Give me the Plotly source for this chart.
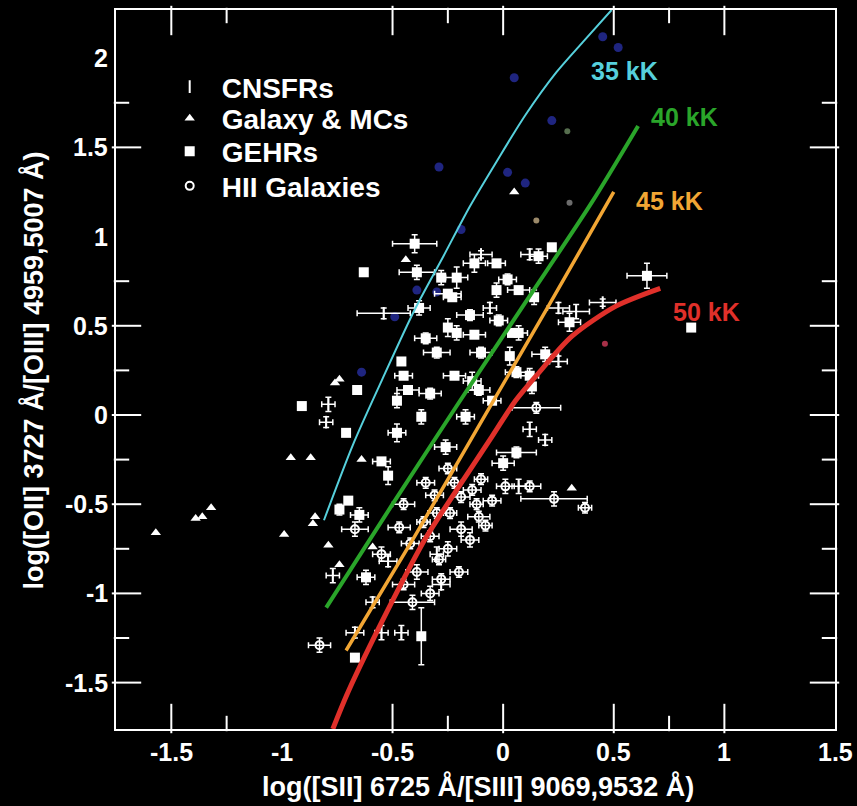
import plotly.graph_objects as go

# ---------------------------------------------------------------- data
# GEHRs (giant extragalactic HII regions)
gehr_x = [-0.40, -0.63, -0.39, -0.28, -0.38, -0.25, -0.35, -0.30, -0.25, -0.46,
          -0.45, 0.22, 0.16, -0.13, -0.03, -0.21, 0.02, -0.03, 0.07, 0.14,
          -0.23, -0.15, 0.30, -0.21, -0.13, 0.07, 0.19, 0.03, -0.10, -0.22,
          0.12, -0.02, 0.04, -0.14, -0.33, -0.48, -0.66, -0.91, -0.71, -0.48,
          -0.43, -0.37, -0.26, -0.17, -0.55, -0.52, -0.70, -0.65, -0.74, -0.11,
          -0.05, 0.06, 0.13, 0.00, 0.06, -0.62, -0.37, -0.67, 0.65, 0.85]
gehr_y = [0.96, 0.80, 0.80, 0.77, 0.60, 0.68, 0.43, 0.35, 0.49, 0.30,
          0.22, 0.94, 0.89, 0.85, 0.85, 0.77, 0.76, 0.70, 0.70, 0.66,
          0.66, 0.56, 0.52, 0.46, 0.45, 0.46, 0.34, 0.33, 0.35, 0.22,
          0.22, 0.53, 0.46, 0.19, 0.12, 0.08, 0.14, 0.05, -0.10, -0.10,
          0.14, -0.01, -0.18, -0.01, -0.26, -0.34, -0.48, -0.56, -0.53, 0.14,
          0.08, 0.24, 0.16, -0.27, -0.21, -0.91, -1.24, -1.36, 0.78, 0.49]
gehr_ex = [0.10, 0, 0.08, 0, 0.05, 0.06, 0.05, 0.06, 0, 0,
           0.04, 0, 0.04, 0.05, 0.04, 0.05, 0.04, 0, 0.05, 0,
           0.04, 0.06, 0.05, 0, 0.05, 0.04, 0.06, 0, 0.05, 0.05,
           0.04, 0.04, 0, 0.04, 0.05, 0, 0, 0, 0, 0.04,
           0.05, 0, 0.05, 0.04, 0.04, 0, 0, 0.04, 0, 0.05,
           0.04, 0.05, 0, 0.05, 0.09, 0.04, 0, 0, 0.09, 0]
gehr_ey = [0.05, 0, 0.04, 0.04, 0.04, 0, 0.03, 0.03, 0.05, 0,
           0, 0, 0.04, 0.05, 0, 0.06, 0.03, 0.04, 0, 0.04,
           0, 0.03, 0.05, 0.04, 0, 0.04, 0.04, 0.05, 0.03, 0,
           0.04, 0.03, 0, 0.05, 0.03, 0.04, 0, 0, 0, 0.05,
           0, 0.04, 0.04, 0.04, 0, 0.05, 0, 0.04, 0.03, 0.03,
           0, 0.03, 0.04, 0.04, 0.03, 0.04, 0.16, 0, 0.07, 0]

# HII galaxies
hii_x = [0.15, 0.23, -0.19, -0.11, -0.19, -0.14, -0.10, -0.35, -0.47, -0.67,
         -0.39, -0.41, -0.83, -0.25, -0.30, -0.25, -0.05, 0.37, -0.20, -0.55,
         -0.45, 0.12, 0.01, -0.24, -0.28, -0.29, -0.33, -0.08,
         -0.42, -0.36, -0.31, -0.22, -0.15, -0.45, -0.33, -0.12]
hii_y = [0.04, -0.47, -0.46, -0.57, -0.64, -0.42, -0.36, -0.38, -0.63, -0.64,
         -0.88, -1.05, -1.29, -0.75, -0.55, -0.30, -0.48, -0.52, -0.88, -0.78,
         -0.50, -0.40, -0.40, -0.55, -0.92, -0.81, -0.68, -0.62,
         -0.72, -0.60, -0.45, -0.38, -0.70, -0.95, -1.00, -0.50]
hii_ex = [0.11, 0.15, 0.04, 0.05, 0.05, 0.04, 0.03, 0.04, 0.05, 0.06,
          0.05, 0.10, 0.05, 0.04, 0.04, 0.04, 0.04, 0.03, 0.04, 0.04,
          0.05, 0.05, 0.04, 0.03, 0.04, 0.03, 0.04, 0.03,
          0.04, 0.03, 0.04, 0.03, 0.04, 0.05, 0.04, 0.03]
hii_ey = [0.03, 0.04, 0.03, 0.03, 0.04, 0.03, 0.03, 0.03, 0.03, 0.04,
          0.04, 0.04, 0.04, 0.04, 0.03, 0.03, 0.03, 0.03, 0.03, 0.04,
          0.03, 0.03, 0.04, 0.03, 0.03, 0.03, 0.03, 0.03,
          0.03, 0.03, 0.03, 0.03, 0.04, 0.03, 0.04, 0.03]

# Galaxy & Magellanic Clouds
gal_x = [-1.57, -1.39, -1.36, -1.32, -0.99, -0.96, -0.87, -0.85, -0.86, -0.74,
         -0.76, 0.05, 0.31, -0.44, -0.79, -0.74, -0.64, -0.59]
gal_y = [-0.66, -0.58, -0.57, -0.52, -0.67, -0.24, -0.24, -0.57, -0.61, 0.20,
         0.18, 1.25, -0.41, 0.87, -0.73, -0.84, -0.25, -0.74]

# CNSFRs (circumnuclear star-forming regions)
cn_x = [-0.54, 0.45, 0.25, 0.33, 0.12, -0.10, -0.79, -0.80, 0.12, 0.19,
        -0.77, -0.52, -0.30, -0.28, -0.59, -0.55, -0.46, -0.67, 0.07, -0.06, 0.25]
cn_y = [0.57, 0.63, 0.60, 0.58, 0.90, 0.90, 0.06, -0.04, -0.08, -0.14,
        -0.90, -0.82, -0.78, -0.95, -1.05, -1.22, -1.22, -1.22, -0.40, 0.60, 0.30]
cn_ex = [0.12, 0.06, 0.05, 0.06, 0.04, 0.05, 0.03, 0.03, 0.03, 0.03,
         0.03, 0.04, 0.03, 0.04, 0.03, 0.03, 0.03, 0.04, 0.03, 0.03, 0.04]
cn_ey = [0.03, 0.02, 0.03, 0.04, 0.03, 0.02, 0.04, 0.03, 0.04, 0.03,
         0.04, 0.03, 0.04, 0.03, 0.03, 0.04, 0.04, 0.03, 0.04, 0.03, 0.03]

# faint model points
blue_x = [0.05, 0.22, 0.45, 0.52, 0.02, 0.10, -0.29, -0.19, -0.39, -0.30, -0.64, -0.49]
blue_y = [1.89, 1.65, 2.12, 2.06, 1.36, 1.30, 1.39, 1.04, 0.70, 0.69, 0.24, 0.55]
faint_x = [0.29, 0.30, 0.15, 0.46]
faint_y = [1.59, 1.19, 1.09, 0.40]

# ionization sequences for stellar effective temperatures
t35_x = [-0.81, -0.68, -0.55, -0.40, -0.27, -0.15, -0.03, 0.10, 0.24, 0.36, 0.49]
t35_y = [-0.59, -0.17, 0.19, 0.59, 0.89, 1.17, 1.42, 1.68, 1.92, 2.09, 2.27]
t40_x = [-0.80, -0.50, -0.20, 0.10, 0.40, 0.61]
t40_y = [-1.08, -0.50, 0.07, 0.63, 1.19, 1.62]
t45_x = [-0.71, -0.40, -0.10, 0.20, 0.50]
t45_y = [-1.32, -0.68, -0.04, 0.60, 1.25]
t50_x = [-0.77, -0.70, -0.52, -0.35, -0.21, -0.05, 0.05, 0.15, 0.31, 0.51, 0.71]
t50_y = [-1.76, -1.55, -1.09, -0.69, -0.42, -0.12, 0.07, 0.22, 0.44, 0.61, 0.71]

curve_names = ["35 kK", "40 kK", "45 kK", "50 kK"]
label_x = [0.55, 0.82, 0.75, 0.92]
label_y = [1.93, 1.67, 1.20, 0.58]

# axis tick labels and tick marks
x_tick_vals = [-1.5, -1, -0.5, 0, 0.5, 1, 1.5]
x_tick_text = ["-1.5", "-1", "-0.5", "0", "0.5", "1", "1.5"]
y_tick_vals = [-1.5, -1, -0.5, 0, 0.5, 1, 1.5, 2]
y_tick_text = ["-1.5", "-1", "-0.5", "0", "0.5", "1", "1.5", "2"]
x_major = [-1.5, -0.5, 0, 0.5, 1]
x_minor = [-1.25, -0.25, 0.75]
y_major = [-1.5, -1, -0.5, 0, 0.5, 1.5]
y_minor = [-1.25, -0.75, -0.25, 0.25, 0.75, 1.75]

# ---------------------------------------------------------------- style
FONT = "Liberation Sans, Arial, Helvetica, sans-serif"
WHITE = "white"
curve_colors = ["#56d0dc", "#2aa52a", "#f2a634", "#e0302a"]
curve_widths = [2, 4, 3.5, 5]
faint_colors = ["#566e4e", "#6c6c6c", "#9c8a6a", "#a83048"]

X_RANGE = [-1.75, 1.5]
Y_RANGE = [-1.76, 2.27]
MARGIN = dict(l=116, r=22, t=10, b=77)
WIDTH, HEIGHT = 857, 806
PLOT_W = WIDTH - MARGIN["l"] - MARGIN["r"]
PLOT_H = HEIGHT - MARGIN["t"] - MARGIN["b"]
LONG, SHORT = 21, 11   # tick lengths in pixels


def errs(vals):
    return dict(type="data", array=vals, color=WHITE, thickness=1.5, width=3)


fig = go.Figure()

fig.add_trace(go.Scatter(
    x=blue_x, y=blue_y, mode="markers", showlegend=False, hoverinfo="skip",
    marker=dict(size=9, color="rgba(36,44,150,0.85)", line=dict(width=0))))
fig.add_trace(go.Scatter(
    x=faint_x, y=faint_y, mode="markers", showlegend=False, hoverinfo="skip",
    marker=dict(size=6, color=faint_colors, line=dict(width=0))))

fig.add_trace(go.Scatter(
    x=cn_x, y=cn_y, mode="markers", name="CNSFRs", legend="legend",
    error_x=errs(cn_ex), error_y=errs(cn_ey),
    marker=dict(symbol="line-ns", size=9, color=WHITE,
                line=dict(color=WHITE, width=2))))
fig.add_trace(go.Scatter(
    x=gal_x, y=gal_y, mode="markers", name="Galaxy & MCs", legend="legend2",
    marker=dict(symbol="triangle-up", size=9, color=WHITE, line=dict(width=0))))
fig.add_trace(go.Scatter(
    x=gehr_x, y=gehr_y, mode="markers", name="GEHRs", legend="legend3",
    error_x=errs(gehr_ex), error_y=errs(gehr_ey),
    marker=dict(symbol="square", size=10, color=WHITE, line=dict(width=0))))
fig.add_trace(go.Scatter(
    x=hii_x, y=hii_y, mode="markers", name="HII Galaxies", legend="legend4",
    error_x=errs(hii_ex), error_y=errs(hii_ey),
    marker=dict(symbol="circle-open", size=8, color=WHITE,
                line=dict(color=WHITE, width=2))))

for cx, cy, name, col, w in zip([t35_x, t40_x, t45_x, t50_x],
                                [t35_y, t40_y, t45_y, t50_y],
                                curve_names, curve_colors, curve_widths):
    fig.add_trace(go.Scatter(
        x=cx, y=cy, mode="lines", name=name, showlegend=False,
        line=dict(color=col, width=w, shape="spline", smoothing=0.8)))

# inward tick marks on all four sides of the frame: each tick is a line-shaped
# marker whose size is the tick length, centred half a length inside the frame
dx = (X_RANGE[1] - X_RANGE[0]) / PLOT_W
dy = (Y_RANGE[1] - Y_RANGE[0]) / PLOT_H
for vals, L in [(x_major, LONG), (x_minor, SHORT)]:
    xs = [v for v in vals for _ in (0, 1)]
    ys = [y for _ in vals for y in (Y_RANGE[0] + L / 2 * dy, Y_RANGE[1] - L / 2 * dy)]
    fig.add_trace(go.Scatter(
        x=xs, y=ys, mode="markers", showlegend=False, hoverinfo="skip",
        cliponaxis=False,
        marker=dict(symbol="line-ns", size=L, color=WHITE,
                    line=dict(color=WHITE, width=2))))
for vals, L in [(y_major, LONG), (y_minor, SHORT)]:
    ys = [v for v in vals for _ in (0, 1)]
    xs = [x for _ in vals for x in (X_RANGE[0] + L / 2 * dx, X_RANGE[1] - L / 2 * dx)]
    fig.add_trace(go.Scatter(
        x=xs, y=ys, mode="markers", showlegend=False, hoverinfo="skip",
        cliponaxis=False,
        marker=dict(symbol="line-ew", size=L, color=WHITE,
                    line=dict(color=WHITE, width=2))))

for name, lx, ly, col in zip(curve_names, label_x, label_y, curve_colors):
    fig.add_annotation(x=lx, y=ly, xref="x", yref="y", text=name, showarrow=False,
                       font=dict(family=FONT, size=25, color=col, weight="bold"))

tick_font = dict(family=FONT, size=25, color=WHITE, weight="bold")
title_font = dict(family=FONT, size=27, color=WHITE, weight="bold")
legend_font = dict(family=FONT, size=28, color=WHITE, weight="bold")

# tick labels sit independently of the tick marks (some labelled values
# carry no tick mark)
for v, t in zip(x_tick_vals, x_tick_text):
    fig.add_annotation(x=v, y=0, xref="x", yref="paper", text=t, showarrow=False,
                       xanchor="center", yanchor="middle", yshift=-23,
                       font=tick_font)
for v, t in zip(y_tick_vals, y_tick_text):
    fig.add_annotation(x=0, y=v, xref="paper", yref="y", text=t, showarrow=False,
                       xanchor="right", yanchor="middle", xshift=-6,
                       font=tick_font)


def leg(ypos):
    return dict(x=0.058, y=ypos, xanchor="left", yanchor="middle", itemwidth=54,
                bgcolor="rgba(0,0,0,0)", borderwidth=0, font=legend_font)


fig.update_layout(
    width=WIDTH, height=HEIGHT,
    paper_bgcolor="black", plot_bgcolor="black",
    margin=dict(MARGIN, autoexpand=False),
    legend=leg(0.893), legend2=leg(0.849), legend3=leg(0.803), legend4=leg(0.755),
    xaxis=dict(range=X_RANGE, showgrid=False, zeroline=False,
               showline=True, linecolor=WHITE, linewidth=2, mirror=True,
               ticks="", showticklabels=False),
    yaxis=dict(range=Y_RANGE, showgrid=False, zeroline=False,
               showline=True, linecolor=WHITE, linewidth=2, mirror=True,
               ticks="", showticklabels=False),
)

fig.add_annotation(x=0.503, y=-0.080, xref="paper", yref="paper", showarrow=False,
                   text="log([SII] 6725 Å/[SIII] 9069,9532 Å)", font=title_font,
                   xanchor="center", yanchor="middle")
fig.add_annotation(x=-0.115, y=0.499, xref="paper", yref="paper", showarrow=False,
                   text="log([OII] 3727 Å/[OIII] 4959,5007 Å)", font=title_font,
                   textangle=-90, xanchor="center", yanchor="middle")

fig.write_html("out.html")
